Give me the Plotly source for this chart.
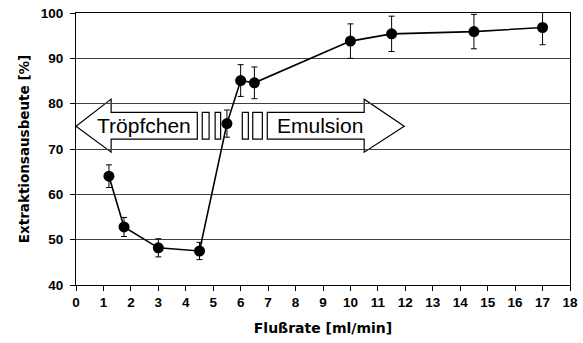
import plotly.graph_objects as go

# Data
flow_rate = [1.2, 1.75, 3.0, 4.5, 5.5, 6.0, 6.5, 10.0, 11.5, 14.5, 17.0]
yield_pct = [64.0, 52.8, 48.2, 47.5, 75.6, 85.1, 84.6, 93.8, 95.4, 95.9, 96.8]
yield_err = [2.5, 2.1, 2.0, 1.9, 3.0, 3.5, 3.5, 3.8, 3.9, 3.8, 3.8]

x_ticks = list(range(0, 19))
y_ticks = list(range(40, 101, 10))

# Regime arrow geometry (data coords)
arrow_mid, shaft_top, shaft_bot, head_top, head_bot = 75.0, 78.1, 72.2, 81.0, 69.3
left_tip, left_head, left_end = 0.0, 1.28, 4.42
right_start, right_head, right_tip = 6.97, 10.5, 11.96
gap_boxes = [(4.60, 4.85), (5.07, 5.27), (6.06, 6.28), (6.44, 6.79)]
labels = [("Tröpfchen", 2.47), ("Emulsion", 8.89)]

fig = go.Figure()

fig.add_trace(go.Scatter(
    x=flow_rate, y=yield_pct,
    mode="lines+markers",
    line=dict(color="black", width=1.6),
    marker=dict(color="black", size=11),
    error_y=dict(type="data", array=yield_err, visible=True,
                 color="black", thickness=1, width=3),
    showlegend=False,
))

def poly(pts):
    return "M " + " L ".join(f"{x},{y}" for x, y in pts) + " Z"

left_arrow = [(left_tip, arrow_mid), (left_head, head_top), (left_head, shaft_top),
              (left_end, shaft_top), (left_end, shaft_bot), (left_head, shaft_bot),
              (left_head, head_bot)]
right_arrow = [(right_start, shaft_top), (right_head, shaft_top), (right_head, head_top),
               (right_tip, arrow_mid), (right_head, head_bot), (right_head, shaft_bot),
               (right_start, shaft_bot)]

shapes = []
for pts in (left_arrow, right_arrow):
    shapes.append(dict(type="path", path=poly(pts), xref="x", yref="y",
                       line=dict(color="black", width=1.2), fillcolor="white",
                       layer="below"))
for x0, x1 in gap_boxes:
    shapes.append(dict(type="rect", x0=x0, x1=x1, y0=shaft_bot, y1=shaft_top,
                       xref="x", yref="y", line=dict(color="black", width=1.2),
                       fillcolor="white", layer="below"))

annotations = [dict(x=x, y=arrow_mid + 0.2, xref="x", yref="y", text=t, showarrow=False,
                    font=dict(family="Liberation Sans, Arial", size=21, color="black"))
               for t, x in labels]

fig.update_layout(
    width=583, height=343,
    margin=dict(l=76, r=13, t=13, b=58),
    paper_bgcolor="white", plot_bgcolor="white",
    shapes=shapes, annotations=annotations,
    xaxis=dict(
        range=[0, 18], tickvals=x_ticks, ticktext=[str(v) for v in x_ticks],
        showgrid=False, zeroline=False,
        showline=True, linecolor="black", linewidth=1, mirror=True,
        ticks="outside", ticklen=5, tickcolor="black", tickwidth=1,
        tickfont=dict(family="Liberation Sans, Arial", size=13.5, color="black", weight="bold"),
        title=dict(text="Flußrate [ml/min]", standoff=13,
                   font=dict(family="DejaVu Sans", size=14, color="black", weight="bold")),
        automargin=False,
    ),
    yaxis=dict(
        range=[40, 100], tickvals=y_ticks, ticktext=[str(v) for v in y_ticks],
        showgrid=True, gridcolor="#404040", gridwidth=1, zeroline=False,
        showline=True, linecolor="black", linewidth=1, mirror=True,
        ticks="outside", ticklen=5, tickcolor="black", tickwidth=1,
        ticklabelstandoff=4,
        tickfont=dict(family="Liberation Sans, Arial", size=13.5, color="black", weight="bold"),
        title=dict(text="Extraktionsausbeute [%]", standoff=8,
                   font=dict(family="DejaVu Sans", size=13.5, color="black", weight="bold")),
        automargin=False,
    ),
)

fig.write_html(
    "out.html",
    config={"displayModeBar": False},
    post_script="document.body.style.margin='0';document.body.style.overflow='hidden';",
)
